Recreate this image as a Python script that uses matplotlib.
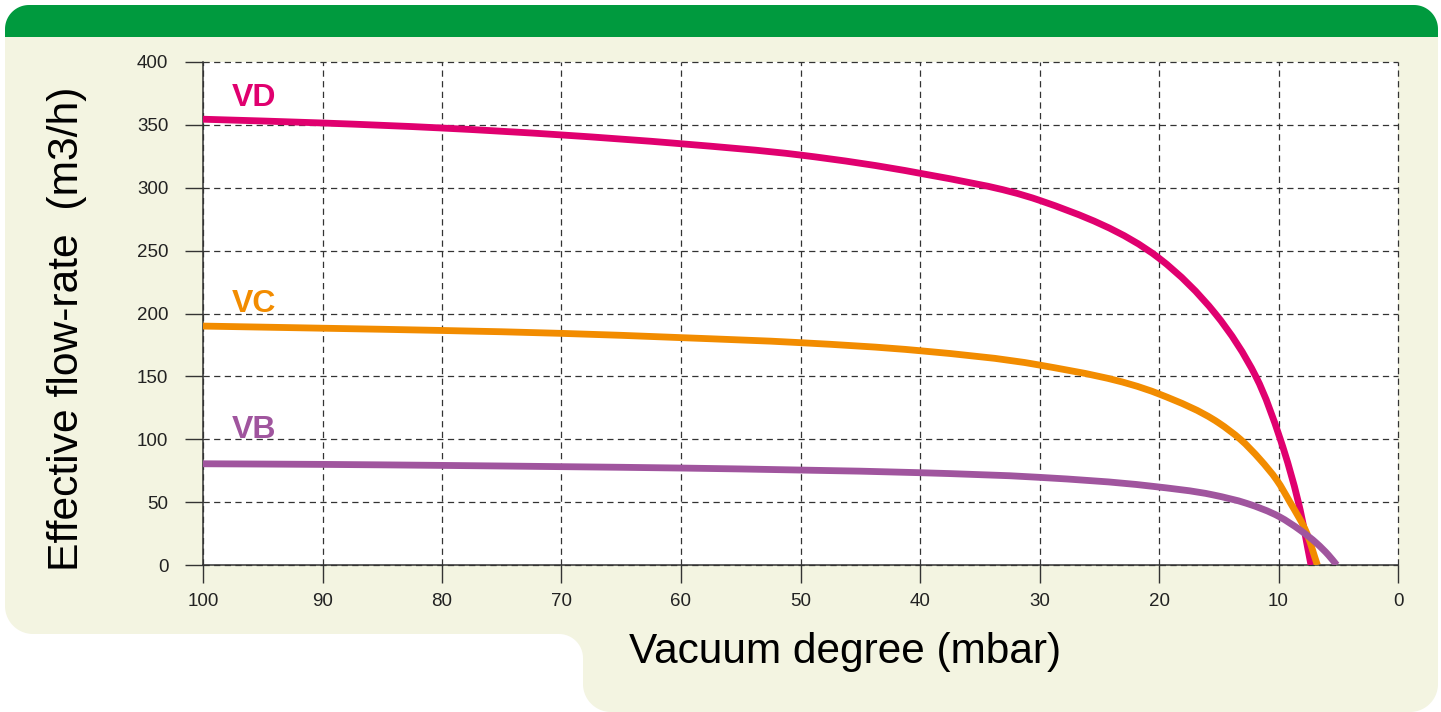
import numpy as np
import matplotlib
matplotlib.use("Agg")
import matplotlib.pyplot as plt
from matplotlib.patches import PathPatch
from matplotlib.path import Path

plt.rcParams["font.family"] = ["Liberation Sans", "DejaVu Sans"]

# vacuum degree (mbar) / effective flow-rate (m3/h)
vd_x = [100, 90, 80, 70, 60, 50, 40, 30, 20, 15.3, 11.9, 9.85, 8.34, 7.28]
vd_y = [354.5, 351.5, 347.5, 342, 335, 326, 311.5, 290, 244, 200, 150, 100, 50, 0]

vc_x = [100, 90, 80, 70, 60, 50, 40, 30, 20, 15, 13.2, 11.55, 10.15, 9.04, 7.78, 6.75]
vc_y = [190, 188.3, 186.5, 184.2, 180.8, 176.8, 170.4, 159, 136, 113, 100, 84, 67.6, 50, 28.5, 0]

vb_x = [100, 90, 80, 70, 60, 50, 40, 30, 20.75, 15.45, 12.66, 9.93, 8.2, 6.8, 5.83, 5.13]
vb_y = [80.5, 80, 79.2, 78.2, 77.1, 75.5, 73.4, 69.7, 62.8, 55.7, 49, 38.4, 27.8, 17.2, 8, 0]

series = [
    ("VD", vd_x, vd_y, "#e0006f", 365),
    ("VC", vc_x, vc_y, "#f28c00", 201),
    ("VB", vb_x, vb_y, "#a0559e", 100.7),
]

W, H = 1441, 712
GREEN = "#009a3e"
CREAM = "#f3f4e1"


def arc(cx, cy, r, a0, a1, n=20):
    t = np.radians(np.linspace(a0, a1, n))
    return list(zip(cx + r * np.cos(t), cy + r * np.sin(t)))


def to_fig(pts):
    # pixel coords (y down) -> figure fraction
    return [(x / W, 1 - y / H) for x, y in pts]


def smooth_curve(ax, xs, ys, **kwargs):
    """ Draw a smooth bezier curve through the points (Bessel tangents, in pixels). """
    P = ax.transData.transform(np.column_stack([xs, ys]))
    n = len(P)
    tang = []
    for i in range(n):
        if i == 0 or i == n - 1:
            d = P[min(i + 1, n - 1)] - P[max(i - 1, 0)]
        else:
            d0, d1 = P[i] - P[i - 1], P[i + 1] - P[i]
            h0, h1 = np.hypot(*d0), np.hypot(*d1)
            d = (h1 * d0 / h0 + h0 * d1 / h1) / (h0 + h1)
        tang.append(d / np.hypot(*d))
    verts = [P[0]]
    codes = [Path.MOVETO]
    for i in range(n - 1):
        seg = np.hypot(*(P[i + 1] - P[i]))
        verts += [P[i] + tang[i] * seg / 3, P[i + 1] - tang[i + 1] * seg / 3, P[i + 1]]
        codes += [Path.CURVE4] * 3
    verts = ax.transData.inverted().transform(np.array(verts))
    patch = PathPatch(Path(verts, codes), facecolor="none", **kwargs)
    ax.add_patch(patch)
    return patch


fig = plt.figure(figsize=(W / 100, H / 100), dpi=100)

# cream panel with the stepped bottom edge
r = 28
pts = [(5, 37), (1438, 37)]
pts += arc(1438 - r, 712 - r, r, 0, 90)
pts += arc(583 + r, 712 - r, r, 90, 180)
pts += arc(583 - 24, 634 + 24, 24, 0, -90)
pts += arc(5 + r, 634 - r, r, 90, 180)
pts += [(5, 37)]
fig.patches.append(PathPatch(Path(to_fig(pts)), transform=fig.transFigure,
                             facecolor=CREAM, edgecolor="none", zorder=-2))

# green header band
rg = 24
pts = [(5, 37)]
pts += arc(5 + rg, 5 + rg, rg, 180, 270)
pts += arc(1438 - rg, 5 + rg, rg, 270, 360)
pts += [(1438, 37), (5, 37)]
fig.patches.append(PathPatch(Path(to_fig(pts)), transform=fig.transFigure,
                             facecolor=GREEN, edgecolor="none", zorder=-2))

ax = fig.add_axes([203 / W, 1 - 565 / H, (1398 - 203) / W, (565 - 62) / H])
ax.set_zorder(2)
ax.set_facecolor("white")
ax.set_xlim(100, 0)
ax.set_ylim(0, 400)

for name, xs, ys, color, label_y in series:
    smooth_curve(ax, xs, ys, edgecolor=color, lw=4.9, capstyle="butt",
                 joinstyle="round", zorder=3)
    ax.text(97.6, label_y, name, color=color, fontsize=23, fontweight="bold",
            ha="left", va="baseline", zorder=4)

ax.set_xticks(np.arange(100, -1, -10))
ax.set_yticks(np.arange(0, 401, 50))
ax.grid(True, color="#333333", lw=0.9, linestyle=(0, (5, 3.5)))
ax.set_axisbelow(True)
for gl in ax.get_xgridlines() + ax.get_ygridlines():
    gl.set_clip_on(False)

for side in ["top", "right"]:
    ax.spines[side].set_visible(False)
for side in ["left", "bottom"]:
    ax.spines[side].set_color("#333333")
    ax.spines[side].set_linewidth(1.1)

ax.tick_params(axis="both", direction="out", length=13, width=1.0,
               color="#333333", labelcolor="#222222", labelsize=13.5)
ax.tick_params(axis="x", pad=7)
ax.tick_params(axis="y", pad=12)

fig.text(845 / W, 1 - 652 / H, "Vacuum degree (mbar)", fontsize=30.5,
         ha="center", va="center", color="black")
fig.text(67 / W, 1 - 329 / H, "Effective flow-rate  (m3/h)", fontsize=30.7,
         rotation=90, ha="center", va="center", color="black")

fig.savefig("out.png", dpi=100, facecolor="white")
